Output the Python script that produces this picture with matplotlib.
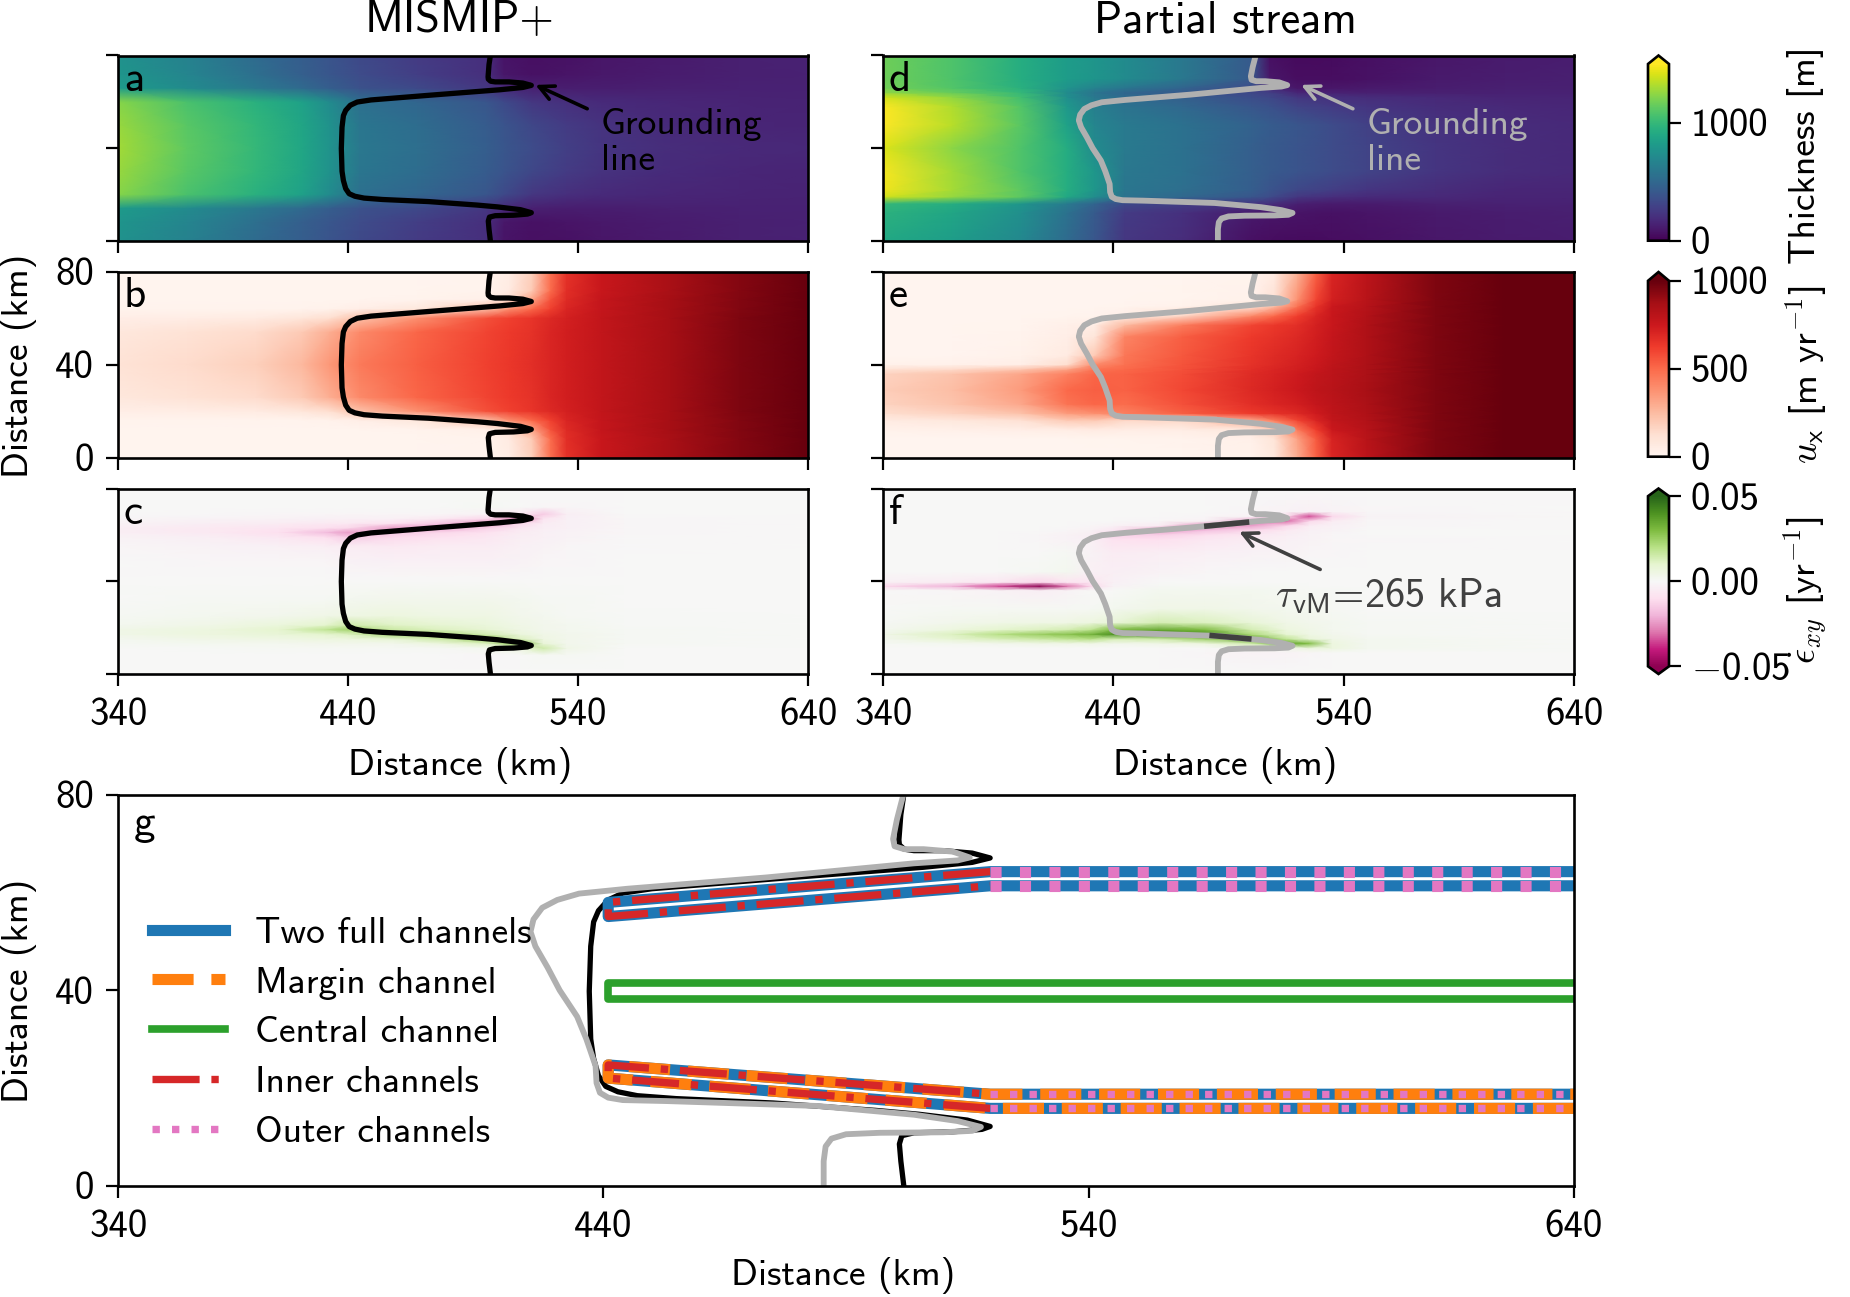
import numpy as np
import matplotlib
matplotlib.use("Agg")
import matplotlib.pyplot as plt
from matplotlib.cm import ScalarMappable
from matplotlib.colors import Normalize

plt.rcParams['font.family'] = ['cmss10', 'DejaVu Sans']
plt.rcParams['mathtext.fontset'] = 'cm'
plt.rcParams['axes.unicode_minus'] = False
FS = 27
TICK_FS = 28
LETTER_FS = 31

W, H = 1850, 1297

# ---------- grounding lines (km) ----------
GL_MISMIP_X = [501.9,501.3,501.0,501.5,504,512,518,519.7,515,505,496,475,455,447,443,440.5,439,438,437.4,437.1,437.4,438,439,441,444,450,475,506,516,519.7,516,510,504,502,501,500.9,501.3,501.9]
GL_MISMIP_Y = [0,5,8.5,10.2,10.8,11,11.5,12.1,13.4,14.6,15.4,16.9,17.8,18.4,19.2,20.3,22.5,26,30,39.8,49,54,56.3,58.5,59.9,60.8,62.8,65.2,66.2,67.1,68.1,68.6,68.6,68.9,69.8,70.8,76,80]
GL_PARTIAL_X = [485.4,485.4,485.8,487,490,497,510,516,517.8,513,504,484,453,444,441,439.3,438.6,438.4,436.5,434.6,431,428.5,426,425,425.6,427.4,430.5,435,445,473.5,504,513,515.5,512,506,502,500,499.7,500.5,501.8]
GL_PARTIAL_Y = [0,5,8,9.6,10.5,10.8,10.9,11.2,12,13.2,14.5,16.3,17.3,17.5,18,19,21,24.5,30,34.6,40,44.7,49,52,54.5,56.9,58.5,59.8,60.8,63.1,66,66.6,67.2,68.4,68.9,68.9,69.5,71,75,80]
STRESS_TOP_X = [479.4, 499.0]
STRESS_TOP_Y = [63.65, 65.5]
STRESS_BOT_X = [481.7, 500.0]
STRESS_BOT_Y = [16.5, 14.9]

# ---------- channels (km) ----------
CH_UP_FULL_X = [640, 519.7, 441, 441, 519.7, 640]
CH_UP_FULL_Y = [64.3, 64.3, 58.0, 55.1, 61.4, 61.4]
CH_LO_FULL_X = [640, 519.7, 441, 441, 519.7, 640]
CH_LO_FULL_Y = [15.8, 15.8, 22.0, 24.7, 18.7, 18.7]
CH_CENTER_X = [640, 441, 441, 640]
CH_CENTER_Y = [41.4, 41.4, 38.3, 38.3]
CH_UP_IN_X = [519.7, 441, 441, 519.7]
CH_UP_IN_Y = [64.3, 58.0, 55.1, 61.4]
CH_LO_IN_X = [519.7, 441, 441, 519.7]
CH_LO_IN_Y = [15.8, 22.0, 24.7, 18.7]
CH_OUT_X = [519.7, 640]
CH_OUT_UP_LEVELS = [64.3, 61.4]
CH_OUT_LO_LEVELS = [18.7, 15.8]

# ---------- panel a: thickness (m), lower half, mirrored about y = 40 ----------
A_X = [340,370,400,420,432,445,470,500,508,520,535,550,580,610,640]
A_Y = [0,8,14,20,30,40]
A_ROWS = [
 [760,660,520,440,390,330,260,200,80,60,70,85,110,130,135],
 [780,680,540,450,400,340,270,205,90,70,80,95,115,130,135],
 [820,720,600,510,440,380,330,240,170,130,120,120,130,140,140],
 [1230,1070,950,850,720,550,490,400,330,240,200,180,160,150,145],
 [1270,1110,990,880,760,590,530,430,390,320,260,220,180,160,150],
 [1290,1130,1000,890,770,600,540,440,400,340,280,230,190,170,165],
]
# ---------- panel b: speed (m/yr), lower half, mirrored ----------
B_X = [340,370,400,420,432,445,470,500,510,520,528,535,550,580,610,640]
B_Y = [0,8,12,16,20,26,40]
B_ROWS = [
 [10,10,10,10,10,10,10,15,50,180,480,660,760,860,940,1000],
 [10,10,10,10,10,10,10,15,60,200,490,670,760,860,940,1000],
 [10,10,10,10,10,10,15,30,120,320,560,680,770,870,945,1000],
 [12,12,12,15,20,40,80,230,380,500,610,700,770,870,945,1000],
 [40,50,60,90,130,230,380,570,610,650,690,720,780,870,950,1000],
 [80,110,140,200,290,400,510,600,630,660,700,730,780,870,950,1000],
 [110,140,180,260,360,450,530,610,640,670,700,730,780,870,950,1000],
]
# ---------- panel c: strain rate (1/yr), lower half, mirrored with opposite sign ----------
C_X = [340,380,410,430,440,460,480,500,515,525,535,560,640]
C_Y = [0,8,11,13,15,17,19,21,25,32,40]
C_ROWS = [
 [0,0,0,0,0,0,0,0,0,0,0,0,0],
 [0,0,0,0,0,0,0,-.001,0,.001,.001,0,0],
 [0,.0005,.001,.001,.001,.001,.001,.002,.006,.015,.004,0,0],
 [.001,.002,.002,.003,.003,.003,.006,.012,.03,.008,.003,.001,0],
 [.002,.004,.005,.006,.006,.009,.016,.025,.012,.005,.003,.001,0],
 [.004,.006,.008,.010,.012,.024,.022,.014,.007,.004,.003,.001,0],
 [.004,.006,.010,.018,.024,.016,.012,.009,.005,.003,.002,.001,0],
 [.002,.004,.007,.010,.015,.011,.009,.007,.004,.003,.002,.0005,0],
 [.001,.002,.003,.004,.005,.006,.005,.005,.003,.002,.001,.0005,0],
 [0,.001,.001,.001,.002,.003,.003,.003,.002,.001,.001,0,0],
 [0,0,0,0,0,0,0,0,0,0,0,0,0],
]
# ---------- panel d: thickness (m) ----------
D_X = A_X
D_Y = [0,12,16,19,22,30,40,50,58,62,64,66,70,80]
D_ROWS = [
 [900,830,700,520,400,240,190,60,50,45,50,60,90,110,120],
 [960,880,740,560,420,260,210,100,90,80,70,80,100,120,130],
 [1000,930,780,610,480,330,280,230,200,130,110,110,130,140,140],
 [1400,1260,1120,900,730,570,500,400,340,240,200,180,170,150,150],
 [1470,1300,1120,930,790,590,540,440,390,320,270,230,190,160,155],
 [1480,1290,1080,930,790,600,560,450,420,390,340,300,230,190,170],
 [1420,1240,1080,920,720,610,560,450,420,390,340,300,230,190,170],
 [1500,1340,1110,850,680,610,560,465,430,400,340,290,220,190,170],
 [1490,1320,1090,800,640,570,500,400,370,300,260,230,190,170,160],
 [1400,1250,1040,740,600,520,450,350,320,240,210,190,170,150,150],
 [1250,1150,1000,720,580,490,420,320,280,160,140,130,130,140,140],
 [1180,1090,950,770,660,590,480,340,170,90,90,100,120,130,130],
 [1170,1080,930,825,780,720,600,420,90,55,55,70,100,120,130],
 [1170,1080,930,825,780,720,600,420,60,40,45,60,90,110,120],
]
# ---------- panel e: speed (m/yr) ----------
E_X = B_X
E_Y = [0,8,12,16,19,23,29,36,38,40,44,52,57,61,65,68,80]
E_ROWS = [
 [5,5,5,5,5,5,10,20,80,300,520,700,800,950,1000,1000],
 [5,5,5,5,10,10,15,30,100,330,540,710,810,950,1000,1000],
 [20,30,40,50,60,50,50,80,200,450,620,750,820,950,1000,1000],
 [60,80,120,200,200,150,150,300,450,600,700,780,830,950,1000,1000],
 [130,170,230,350,380,430,530,630,660,690,740,790,840,950,1000,1000],
 [170,220,310,470,510,490,570,670,700,730,770,800,850,950,1000,1000],
 [190,240,350,500,530,520,590,690,720,750,790,810,860,950,1000,1000],
 [170,220,320,430,510,520,580,680,710,740,780,800,850,950,1000,1000],
 [110,140,210,320,470,500,570,670,700,730,760,800,850,950,1000,1000],
 [20,25,40,130,400,480,560,660,690,720,750,790,850,950,1000,1000],
 [5,5,20,60,200,460,550,650,680,710,740,780,840,950,1000,1000],
 [5,5,15,40,90,420,530,630,660,690,730,770,840,950,1000,1000],
 [5,5,10,30,50,250,440,600,640,670,720,760,840,950,1000,1000],
 [5,5,5,10,15,40,150,400,500,620,700,760,830,950,1000,1000],
 [5,5,5,5,5,10,20,90,250,480,650,750,820,950,1000,1000],
 [5,5,5,5,5,5,10,20,120,380,600,720,810,950,1000,1000],
 [5,5,5,5,5,5,5,15,60,280,520,700,800,950,1000,1000],
]
# ---------- panel f: strain rate (1/yr) ----------
F_X = [340,370,390,408,420,430,440,460,480,500,515,525,535,550,640]
F_Y = [0,9,11,13,15,17,19,22,28,36,37.8,39.5,44,52,58,60,62,64,66,68,70,80]
F_ROWS = [
 [0,0,0,0,0,0,0,0,0,0,0,0,0,0,0],
 [0,0,0,0,0,0,0,0,-.001,-.002,-.002,-.001,0,0,0],
 [0,0,0,0,0,0,0,0,0,.001,.003,.006,.006,.002,0],
 [.001,.002,.003,.004,.004,.004,.003,.004,.006,.015,.035,.03,.006,.002,0],
 [.003,.009,.013,.016,.018,.020,.014,.015,.025,.035,.018,.008,.004,.002,0],
 [.004,.012,.02,.025,.028,.032,.040,.042,.040,.022,.009,.005,.003,.001,0],
 [.002,.006,.01,.012,.014,.018,.030,.034,.030,.014,.006,.004,.002,.001,0],
 [.001,.003,.004,.005,.005,.006,.008,.014,.012,.008,.004,.003,.002,.001,0],
 [0,.001,.001,.001,.001,.001,.002,.004,.004,.003,.002,.002,.001,0,0],
 [0,-.001,-.002,-.004,-.002,0,0,.002,.002,.002,.001,.001,.001,0,0],
 [-.012,-.02,-.035,-.05,-.03,-.012,-.002,.001,.001,.001,.001,0,0,0,0],
 [-.003,-.005,-.007,-.012,-.008,-.008,-.003,0,0,0,0,0,0,0,0],
 [0,0,0,.001,.002,-.003,-.004,-.002,-.001,0,0,0,0,0,0],
 [0,0,0,0,.001,-.002,-.005,-.004,-.003,-.002,-.002,-.001,-.001,0,0],
 [0,0,0,-.001,-.002,-.003,-.009,-.010,-.007,-.005,-.003,-.002,-.001,-.001,0],
 [0,0,0,-.001,-.002,-.004,-.014,-.014,-.010,-.007,-.004,-.002,-.001,0,0],
 [0,0,0,0,-.001,-.002,-.007,-.024,-.018,-.012,-.006,-.003,-.002,0,0],
 [0,0,0,0,0,-.001,-.002,-.005,-.026,-.024,-.012,-.005,-.003,-.001,0],
 [0,0,0,0,0,0,0,-.001,-.002,-.022,-.032,-.012,-.005,-.001,0],
 [0,0,0,0,0,0,0,0,-.001,-.002,-.010,-.035,-.012,-.002,0],
 [0,0,0,0,0,0,0,0,0,-.001,-.002,-.003,-.002,-.001,0],
 [0,0,0,0,0,0,0,0,0,0,0,0,0,0,0],
]

X_TICKS = [340, 440, 540, 640]
Y_TICKS = [0, 40, 80]
CB1_TICKS = [0, 1000]
CB2_TICKS = [0, 500, 1000]
CB3_TICKS = [-0.05, 0.0, 0.05]
CB3_LABELS = ['$-$0.05', '0.00', '0.05']
LEGEND_LABELS = ['Two full channels', 'Margin channel', 'Central channel', 'Inner channels', 'Outer channels']


def mirror(rows, ys, sign=1.0):
    r = np.asarray(rows, float)
    y = np.asarray(ys, float)
    return np.vstack([r, sign * r[-2::-1]]), np.concatenate([y, 80 - y[-2::-1]])


fig = plt.figure(figsize=(W / 100, H / 100), dpi=100)


def axpx(l, t, r, b):
    return fig.add_axes([l / W, 1 - b / H, (r - l) / W, (b - t) / H])


def style(ax, xlab=False, ylab=False):
    ax.set_xlim(340, 640)
    ax.set_ylim(0, 80)
    ax.set_xticks(X_TICKS)
    ax.set_yticks(Y_TICKS)
    ax.tick_params(length=8.5, width=1.6, labelsize=TICK_FS, pad=9,
                   labelbottom=xlab, labelleft=ylab)
    for s in ax.spines.values():
        s.set_linewidth(1.9)
        s.set_zorder(20)


LP = (118, 808)
RP = (883, 1574)
ROWS_PX = [(55.5, 240.7), (271.5, 457.5), (488.5, 673.5)]

BLACK_LW = 3.8
GREY_LW = 4.2
BLACK = 'black'
GREY = '#b0b0b0'
DARK = '#404040'

a_c, a_y = mirror(A_ROWS, A_Y)
b_c, b_y = mirror(B_ROWS, B_Y)
c_c, c_y = mirror(C_ROWS, C_Y, -1.0)

panels = [
    ('a', LP, 0, A_X, a_y, a_c, 'viridis', 0, 1500, BLACK),
    ('b', LP, 1, B_X, b_y, b_c, 'Reds', 0, 1000, BLACK),
    ('c', LP, 2, C_X, c_y, c_c, 'PiYG', -0.05, 0.05, BLACK),
    ('d', RP, 0, D_X, D_Y, np.array(D_ROWS, float), 'viridis', 0, 1500, GREY),
    ('e', RP, 1, E_X, E_Y, np.array(E_ROWS, float), 'Reds', 0, 1000, GREY),
    ('f', RP, 2, F_X, F_Y, np.array(F_ROWS, float), 'PiYG', -0.05, 0.05, GREY),
]
axes = {}
for name, xr, row, xs, ys, c, cmap, vmin, vmax, col in panels:
    t, b = ROWS_PX[row]
    ax = axpx(xr[0], t, xr[1], b)
    style(ax, xlab=row == 2, ylab=(name == 'b'))
    ax.pcolormesh(xs, ys, c, shading='gouraud', cmap=cmap, vmin=vmin, vmax=vmax)
    if col == BLACK:
        ax.plot(GL_MISMIP_X, GL_MISMIP_Y, color=col, lw=BLACK_LW)
    else:
        ax.plot(GL_PARTIAL_X, GL_PARTIAL_Y, color=col, lw=GREY_LW)
    ax.text(0.0085, 0.81, name, transform=ax.transAxes, fontsize=LETTER_FS, va='baseline', ha='left',
            color='black', zorder=15)
    axes[name] = ax

for ax, col in [(axes['a'], BLACK), (axes['d'], GREY)]:
    ax.annotate('', xy=(521.5, 67.3), xytext=(544, 57),
                arrowprops=dict(arrowstyle='->', color=col, lw=2.6, mutation_scale=26,
                                shrinkA=0, shrinkB=0))
    ax.text(550, 42.4, 'Grounding\nline', color=col, fontsize=FS, va='center', ha='left',
            linespacing=1.13)

axes['f'].plot(STRESS_TOP_X, STRESS_TOP_Y, color=DARK, lw=4, solid_capstyle='butt')
axes['f'].plot(STRESS_BOT_X, STRESS_BOT_Y, color=DARK, lw=4, solid_capstyle='butt')
axes['f'].annotate('', xy=(494.6, 61.3), xytext=(529.8, 45),
                   arrowprops=dict(arrowstyle='->', color=DARK, lw=2.6, mutation_scale=26,
                                   shrinkA=0, shrinkB=0))
axes['f'].text(510, 33.5, r'$\tau_{\mathsf{vM}}$=265 kPa', color=DARK, fontsize=29,
               va='center', ha='left')

# panel g
g = axpx(118, 795, 1574, 1185.5)
style(g, xlab=True, ylab=True)
g.plot(GL_MISMIP_X, GL_MISMIP_Y, color=BLACK, lw=BLACK_LW)
g.plot(GL_PARTIAL_X, GL_PARTIAL_Y, color=GREY, lw=GREY_LW)
BLUE, ORANGE, GREEN, RED, PINK = '#1f77b4', '#ff7f0e', '#2ca02c', '#d62728', '#e377c2'
g.plot(CH_UP_FULL_X, CH_UP_FULL_Y, color=BLUE, lw=8, label=LEGEND_LABELS[0])
g.plot(CH_LO_FULL_X, CH_LO_FULL_Y, color=BLUE, lw=8)
g.plot(CH_LO_FULL_X, CH_LO_FULL_Y, color=ORANGE, lw=8, ls='--', label=LEGEND_LABELS[1])
g.plot(CH_CENTER_X, CH_CENTER_Y, color=GREEN, lw=5.5, label=LEGEND_LABELS[2])
g.plot(CH_UP_IN_X, CH_UP_IN_Y, color=RED, lw=5.3, ls='-.', label=LEGEND_LABELS[3])
g.plot(CH_LO_IN_X, CH_LO_IN_Y, color=RED, lw=5.3, ls='-.')
for lev in CH_OUT_UP_LEVELS:
    g.plot(CH_OUT_X, [lev, lev], color=PINK, lw=8, ls=':')
for i, lev in enumerate(CH_OUT_LO_LEVELS):
    g.plot(CH_OUT_X, [lev, lev], color=PINK, lw=5.3, ls=':',
           label=LEGEND_LABELS[4] if i == 0 else None)
g.text(0.0107, 0.898, 'g', transform=g.transAxes, fontsize=LETTER_FS, va='baseline', ha='left')
g.legend(loc='upper left', bbox_to_anchor=((152 - 118) / 1456, 1 - (916.5 - 795) / 390.5),
         frameon=False, fontsize=27, handlelength=1.95, handletextpad=0.8, labelspacing=0.44,
         borderaxespad=0, borderpad=0)


def ftext(px, py, s, **kw):
    fig.text(px / W, 1 - py / H, s, fontsize=FS, ha='center', va='center', **kw)


fig.text(460 / W, 1 - 21 / H, 'MISMIP+', fontsize=32, ha='center', va='center')
fig.text(1225 / W, 1 - 21 / H, 'Partial stream', fontsize=32, ha='center', va='center')
ftext(460, 765, 'Distance (km)')
ftext(1225, 765, 'Distance (km)')
ftext(843, 1275, 'Distance (km)')
ftext(19, 366, 'Distance (km)', rotation=90)
ftext(19, 991, 'Distance (km)', rotation=90)


def cbar(t, b, cmap, vmin, vmax, extend, frac, ticks, labels=None):
    cax = axpx(1648, t, 1669, b)
    cb = fig.colorbar(ScalarMappable(Normalize(vmin, vmax), cmap), cax=cax, extend=extend,
                      extendfrac=frac, ticks=ticks)
    cb.outline.set_linewidth(1.9)
    cax.tick_params(length=8.5, width=1.6, labelsize=TICK_FS, pad=7)
    if labels:
        cb.set_ticklabels(labels)
    return cb


cbar(55.5, 240.7, 'viridis', 0, 1500, 'max', 0.048, CB1_TICKS)
cbar(272, 456.7, 'Reds', 0, 1000, 'max', 0.05, CB2_TICKS)
cbar(488.5, 674, 'PiYG', -0.05, 0.05, 'both', 0.045, CB3_TICKS, CB3_LABELS)

ftext(1806, 155, 'Thickness [m]', rotation=90)
ftext(1806, 375, r'$u_{\mathsf{x}}$ [m yr$^{-1}$]', rotation=90)
ftext(1806, 590, r'$\dot{\epsilon}_{xy}$ [yr$^{-1}$]', rotation=90)

fig.savefig('out.png', dpi=100)
